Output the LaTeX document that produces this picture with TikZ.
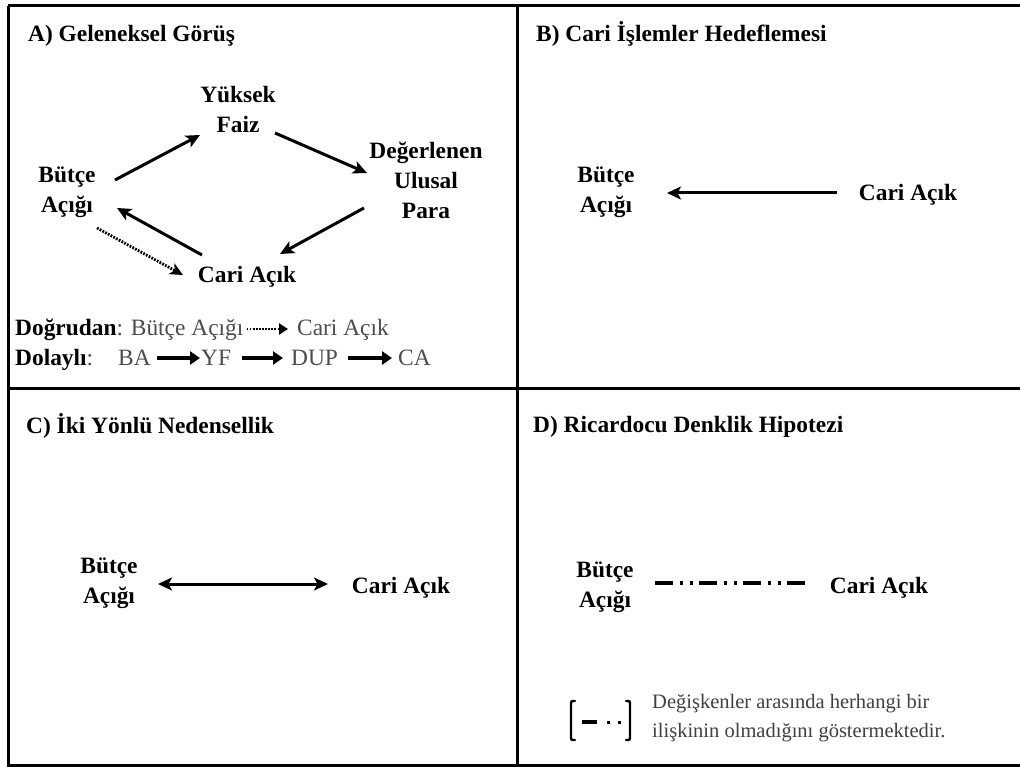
\documentclass[tikz,border=0pt]{standalone}
\usepackage{fontspec}
\setmainfont{Liberation Serif}
\usetikzlibrary{arrows.meta}
\begin{document}
\begin{tikzpicture}[x=1pt,y=-1pt,
  lbl/.style={font=\fontsize{23.4}{30}\selectfont\bfseries, inner sep=0pt, align=center},
  ttl/.style={font=\fontsize{23.4}{30}\selectfont\bfseries, inner sep=0pt, anchor=base west},
  leg/.style={font=\fontsize{23.4}{30}\selectfont, inner sep=0pt, anchor=base west, text=black!70},
  note/.style={font=\fontsize{20.5}{29}\selectfont, inner sep=0pt, anchor=base west, text=black!75},
  arr/.style={line width=3pt, -{Stealth[length=14pt,width=13pt,inset=3.5pt]}},
  dblarr/.style={line width=3pt, {Stealth[length=14pt,width=13pt,inset=3.5pt]}-{Stealth[length=14pt,width=13pt,inset=3.5pt]}},
  dotarr/.style={line width=2.8pt, dash pattern=on 1.8pt off 1.3pt, -{Stealth[length=13pt,width=12pt,inset=3.5pt]}},
  legdot/.style={line width=2.8pt, dash pattern=on 1.8pt off 1.3pt, -{Triangle[length=9pt,width=11pt]}},
  legarr/.style={line width=3.2pt, -{Triangle[length=10pt,width=13pt]}},
  dashdot/.style={line width=4pt, dash pattern=on 18pt off 7pt on 3pt off 7pt on 3pt off 6pt},
  frame/.style={line width=3pt},
]
\useasboundingbox (0,0) rectangle (1020,767);
\clip (0,0) rectangle (1020,767);
\fill[white] (0,0) rectangle (1020,767);

% frame
\draw[frame] (8,6) -- (1030,6);
\draw[frame] (1030,765) -- (8,765) -- (8,6);
\draw[frame] (517,6) -- (517,765);
\draw[frame] (8,388) -- (1030,388);

% Panel A
\node[ttl] (ta) at (28,42) {A) Geleneksel Görüş};
\node[lbl] (ba) at (67,192) {Bütçe\\Açığı};
\node[lbl] (yf) at (238,109) {Yüksek\\Faiz};
\node[lbl] (dup) at (426,180) {Değerlenen\\Ulusal\\Para};
\node[lbl, anchor=base] (ca) at (247,283) {Cari Açık};

\draw[arr] ([shift={(48,-12)}]ba.center) -- ([shift={(-38,26)}]yf.center);
\draw[arr] ([shift={(37,24)}]yf.center) -- ([shift={(-59,-7)}]dup.center);
\draw[arr] ([shift={(-62,28)}]dup.center) -- ([shift={(33,-29)}]ca.base);
\draw[arr] ([shift={(-45,-28)}]ca.base) -- ([shift={(50,16)}]ba.center);
\draw[dotarr] ([shift={(30,36)}]ba.center) -- ([shift={(-64,-8)}]ca.base);

\node[leg] (dog) at (15,335) {\textbf{\color{black}Doğrudan}: Bütçe Açığı};
\node[leg] (dca) at (297,335) {Cari Açık};
\draw[legdot] ([shift={(3,-6)}]dog.base east) -- ([shift={(-9,-6)}]dca.base west);

\node[leg] (dol) at (15,365) {\textbf{\color{black}Dolaylı}:};
\node[leg] (ba2) at (118,365) {BA};
\node[leg] (yf2) at (201,365) {YF};
\node[leg] (dup2) at (291,365) {DUP};
\node[leg] (ca2) at (398,365) {CA};
\draw[legarr] ([shift={(6,-7)}]ba2.base east) -- ([shift={(-1,-7)}]yf2.base west);
\draw[legarr] ([shift={(11,-7)}]yf2.base east) -- ([shift={(-8,-7)}]dup2.base west);
\draw[legarr] ([shift={(10,-7)}]dup2.base east) -- ([shift={(-6,-7)}]ca2.base west);

% Panel B
\node[ttl] (tb) at (536,42) {B) Cari İşlemler Hedeflemesi};
\node[lbl] (bab) at (606,192) {Bütçe\\Açığı};
\node[lbl, anchor=base] (cab) at (908,201) {Cari Açık};
\draw[arr] ([shift={(-71,-8)}]cab.base) -- ([shift={(61,1)}]bab.center);

% Panel C
\node[ttl] (tc) at (26,433) {C) İki Yönlü Nedensellik};
\node[lbl] (bac) at (109,583) {Bütçe\\Açığı};
\node[lbl, anchor=base] (cac) at (401,593) {Cari Açık};
\draw[dblarr] ([shift={(49,1)}]bac.center) -- ([shift={(-73,-9)}]cac.base);

% Panel D
\node[ttl] (td) at (533,432) {D) Ricardocu Denklik Hipotezi};
\node[lbl] (bad) at (605,587) {Bütçe\\Açığı};
\node[lbl, anchor=base] (cad) at (879,593) {Cari Açık};
\draw[dashdot] ([shift={(50,-4)}]bad.center) -- ([shift={(-71,-10)}]cad.base);

% legend of D
\draw[line width=2.4pt, line cap=round] (575,701) .. controls (571,701) .. (571,705) -- (571,736) .. controls (571,740) .. (575,740);
\draw[line width=2.4pt, line cap=round] (626,701) .. controls (630,701) .. (630,705) -- (630,736) .. controls (630,740) .. (626,740);
\draw[line width=3.2pt] (582,722) -- (597,722);
\fill (606.5,720.5) rectangle (609.5,723.5);
\fill (617.5,720.5) rectangle (620.5,723.5);
\node[note] (n1) at (652,708) {Değişkenler arasında herhangi bir};
\node[note] (n2) at (652,737) {ilişkinin olmadığını göstermektedir.};
\end{tikzpicture}
\end{document}
